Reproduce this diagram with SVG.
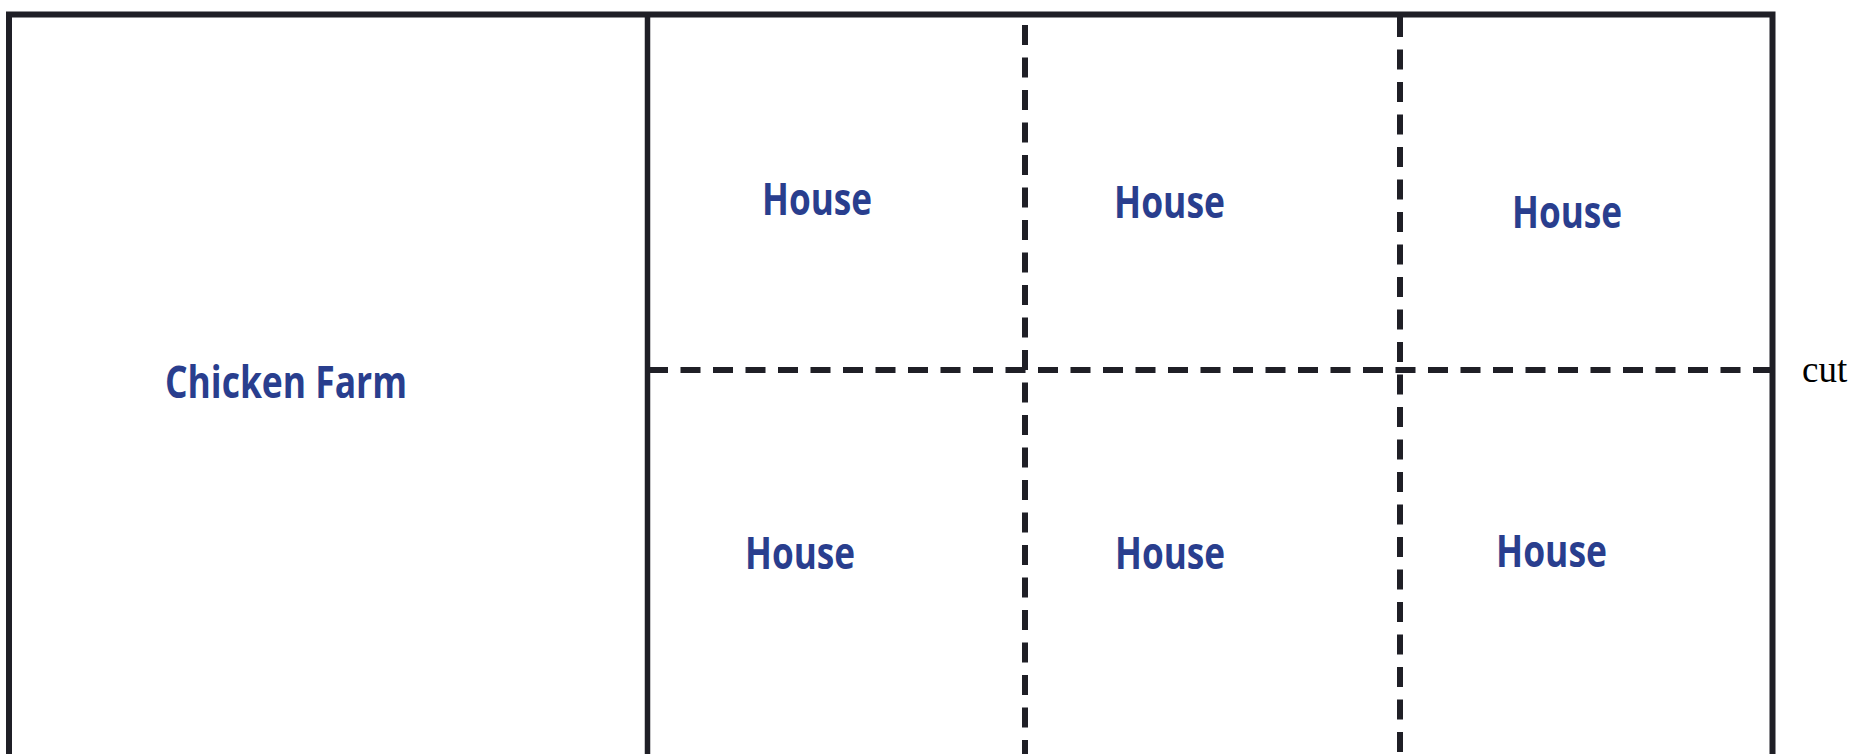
<svg xmlns="http://www.w3.org/2000/svg" width="1851" height="754" viewBox="0 0 1851 754">
<style>
.frame{fill:none;stroke:#1f1f26;stroke-width:6}
.solid{fill:none;stroke:#1f1f26;stroke-width:5.5}
.dash{fill:none;stroke:#1f1f26;stroke-width:6;stroke-dasharray:20 12.5}
.lbl{font-family:"Open Sans","Liberation Sans",sans-serif;font-weight:bold;fill:#293e8e;text-anchor:start}
.cut{font-family:"Liberation Serif",serif;font-size:37px;fill:#000}
</style>
<rect width="1851" height="754" fill="#fff"/>
<g id="connectors">
<path class="frame" d="M9,770 V14.5 H1772.5 V770"/>
<line class="solid" x1="647.5" y1="14" x2="647.5" y2="770"/>
<line class="dash" x1="648" y1="370" x2="1770" y2="370"/>
<line class="dash" x1="1025" y1="25" x2="1025" y2="770"/>
<line class="dash" x1="1400" y1="17" x2="1400" y2="770"/>
</g>
<g id="farm"><text class="lbl" x="165" y="398" font-size="44" textLength="242" lengthAdjust="spacingAndGlyphs">Chicken Farm</text></g>
<g id="house1"><text class="lbl" x="762" y="215" font-size="44" textLength="110" lengthAdjust="spacingAndGlyphs">House</text></g>
<g id="house2"><text class="lbl" x="1114" y="218" font-size="44" textLength="111" lengthAdjust="spacingAndGlyphs">House</text></g>
<g id="house3"><text class="lbl" x="1512" y="228" font-size="44" textLength="110" lengthAdjust="spacingAndGlyphs">House</text></g>
<g id="house4"><text class="lbl" x="745" y="569" font-size="44" textLength="110" lengthAdjust="spacingAndGlyphs">House</text></g>
<g id="house5"><text class="lbl" x="1115" y="569" font-size="44" textLength="110" lengthAdjust="spacingAndGlyphs">House</text></g>
<g id="house6"><text class="lbl" x="1496" y="567" font-size="44" textLength="111" lengthAdjust="spacingAndGlyphs">House</text></g>
<g id="cut"><text class="cut" x="1802" y="382">cut</text></g>
</svg>
